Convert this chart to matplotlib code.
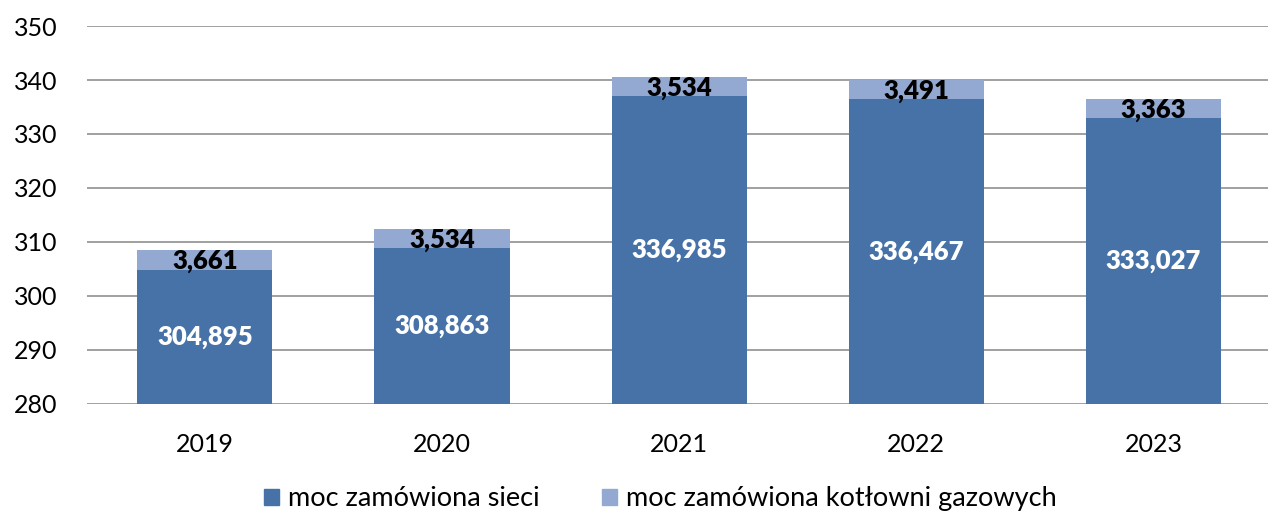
import matplotlib
matplotlib.use("Agg")
import matplotlib.pyplot as plt
from matplotlib.patches import Patch

# Data (MW)
years = ["2019", "2020", "2021", "2022", "2023"]
network = [304.895, 308.863, 336.985, 336.467, 333.027]
gas_boilers = [3.661, 3.534, 3.534, 3.491, 3.363]
series_names = ["moc zamówiona sieci", "moc zamówiona kotłowni gazowych"]

DARK = "#4672A8"
LIGHT = "#94A9D1"
BASE = 280

plt.rcParams["font.family"] = ["Lato", "DejaVu Sans"]

fig = plt.figure(figsize=(12.68, 5.17), dpi=100)
ax = fig.add_axes([0.0686, 0.2186, 0.9314, 0.7311])

x = range(len(years))
w = 0.57
h_net = [v - BASE for v in network]
ax.bar(x, h_net, width=w, bottom=BASE, color=DARK, zorder=3)
ax.bar(x, gas_boilers, width=w, bottom=network, color=LIGHT, zorder=3)

def fmt(v):
    return f"{v:.3f}".replace(".", ",")

for i in x:
    ax.text(i, (BASE + network[i]) / 2, fmt(network[i]), ha="center", va="center",
            color="white", fontsize=18.5, fontweight="heavy", zorder=4)
    ax.text(i, network[i] + gas_boilers[i] / 2 - 0.3, fmt(gas_boilers[i]), ha="center",
            va="center", color="black", fontsize=18.5, fontweight="heavy", zorder=4)

ax.set_ylim(280, 350)
ax.set_yticks(range(280, 351, 10))
ax.set_xlim(-0.497, 4.483)
ax.set_xticks(list(x))
ax.set_xticklabels(years)
ax.tick_params(axis="both", length=0, labelsize=18, colors="black")
ax.tick_params(axis="x", pad=21)
ax.tick_params(axis="y", pad=21)

ax.grid(axis="y", color="#A0A0A0", linewidth=1.4, zorder=0)
for s in ax.spines.values():
    s.set_visible(False)

handles = [Patch(color=DARK, label=series_names[0]),
           Patch(color=LIGHT, label=series_names[1])]
fig.legend(handles=handles, loc="center", bbox_to_anchor=(0.521, 0.035), ncol=2,
           frameon=False, fontsize=19.5, handlelength=0.55, handleheight=0.55,
           handletextpad=0.33, columnspacing=2.3)

fig.savefig("out.png", dpi=100)
